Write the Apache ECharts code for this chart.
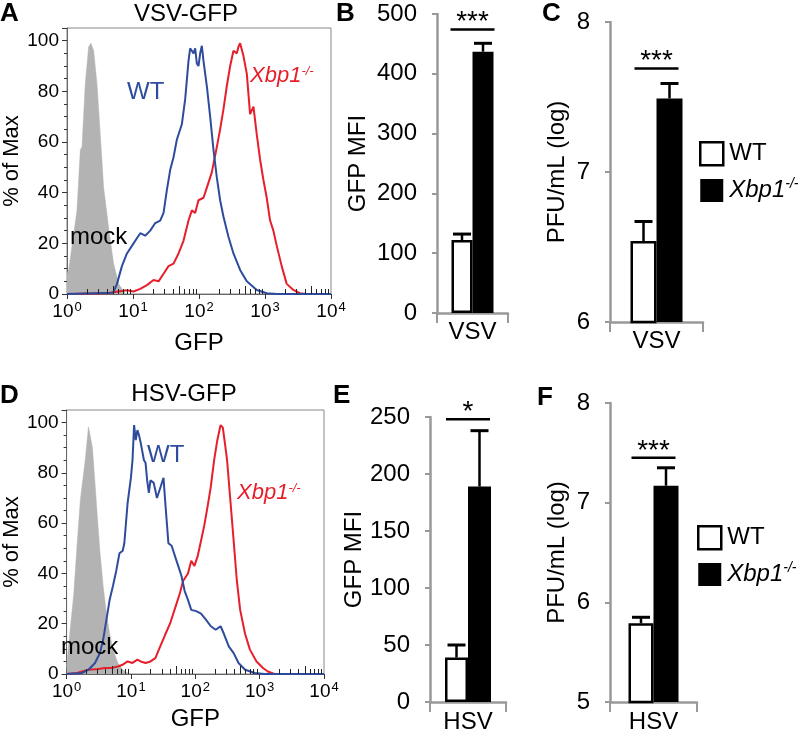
<!DOCTYPE html>
<html><head><meta charset="utf-8">
<script src="https://cdn.jsdelivr.net/npm/echarts@6/dist/echarts.min.js"></script>
<style>html,body{margin:0;padding:0;background:#fff}#c{width:800px;height:734px}</style>
</head><body><div id="c"></div>
<script>
// ---------- DATA ----------
// Histograms: [log10(GFP), % of Max]
const vsvMock = [[0,8],[0.025,9.5],[0.151,33],[0.202,57],[0.227,58],[0.277,83],[0.328,97.6],[0.363,99],[0.404,96],[0.454,83],[0.504,63],[0.555,42],[0.631,26],[0.706,12],[0.782,4],[0.883,0]];
const vsvWT = [[0,0],[0.7,0.5],[0.757,4],[0.832,11],[0.908,16],[0.984,19],[1.059,22],[1.110,24],[1.185,23],[1.261,25],[1.337,28],[1.412,29],[1.463,32],[1.513,41],[1.564,49],[1.614,54],[1.665,61],[1.740,67],[1.791,77],[1.841,92],[1.866,97],[1.917,95],[1.942,97],[1.967,91],[1.992,90],[2.018,95],[2.043,98],[2.068,92],[2.119,82],[2.169,70],[2.219,57],[2.270,46],[2.320,37],[2.371,30.5],[2.446,22.6],[2.522,16],[2.623,9.5],[2.724,5],[2.875,1.6],[3.026,0.3],[3.178,0],[4,0]];
const vsvKO = [[0,0],[0.6,0.3],[0.908,1.5],[1.009,1],[1.110,2],[1.211,3.5],[1.311,5.5],[1.387,5],[1.463,8],[1.538,11],[1.614,12],[1.690,16],[1.765,21],[1.841,29],[1.892,33],[1.942,32],[1.992,37],[2.068,38],[2.119,42],[2.194,48],[2.270,58],[2.320,65],[2.371,73],[2.421,82],[2.472,90],[2.522,96],[2.573,95],[2.598,97.6],[2.623,99],[2.673,94],[2.724,87],[2.774,71],[2.825,74],[2.875,63],[2.926,53],[2.976,45],[3.026,38],[3.077,29],[3.127,25],[3.178,19],[3.253,11],[3.329,4],[3.430,1.6],[3.531,0.3],[3.632,0],[4,0]];
const hsvMock = [[0,3],[0.010,5.7],[0.061,19],[0.112,32],[0.162,51],[0.213,69],[0.289,85],[0.340,98.3],[0.365,99],[0.401,90],[0.441,76],[0.482,61],[0.517,49],[0.568,35],[0.619,24],[0.669,16],[0.720,9.7],[0.796,4.4],[0.872,1.7],[0.948,0.4],[1.0,0]];
const hsvWT = [[0,0],[0.238,0.4],[0.340,1.7],[0.441,4.4],[0.517,8.3],[0.568,13.6],[0.619,21.6],[0.669,29.5],[0.720,35],[0.771,41],[0.821,48],[0.872,49],[0.897,52],[0.948,68],[0.999,78],[1.024,85],[1.049,99],[1.075,93],[1.100,97],[1.125,95],[1.151,92],[1.202,85],[1.227,84],[1.252,77],[1.278,72],[1.303,77],[1.354,76],[1.404,70],[1.455,74],[1.506,78],[1.531,69],[1.582,52],[1.632,51],[1.683,47],[1.734,43],[1.785,39],[1.835,33],[1.886,29.5],[1.937,25.5],[2.013,25],[2.089,24],[2.165,21.6],[2.241,19],[2.317,17.6],[2.393,19],[2.444,16],[2.520,11],[2.596,8.3],[2.672,4.4],[2.773,1.7],[2.925,0.4],[3.077,0],[4,0]];
const hsvKO = [[0,0],[0.162,0.4],[0.238,1],[0.340,1.7],[0.492,2],[0.593,2.4],[0.695,2.4],[0.796,3],[0.872,3.7],[0.948,5],[1.024,4.4],[1.100,5.7],[1.151,5],[1.227,4.4],[1.303,5],[1.379,6.3],[1.455,11],[1.531,15.6],[1.607,20],[1.683,26],[1.759,32],[1.810,37],[1.886,40],[1.937,45],[1.987,43],[2.038,47],[2.089,53],[2.139,59],[2.190,66.5],[2.241,74.5],[2.292,85],[2.342,93],[2.393,99],[2.428,98],[2.459,92],[2.494,85],[2.545,69],[2.596,53],[2.646,37],[2.697,25.5],[2.773,16],[2.849,9.7],[2.951,5],[3.052,2.4],[3.128,1],[3.229,0],[4,0]];
const decadeTicks = [0,1,2,3,4];

// Bar panels
const catVSV = ['VSV'];
const catHSV = ['HSV'];
const vsvMfiWT = [122], vsvMfiWTErr = [10];
const vsvMfiKO = [437], vsvMfiKOErr = [14];
const vsvPfuWT = [6.54], vsvPfuWTErr = [0.13];
const vsvPfuKO = [7.49], vsvPfuKOErr = [0.10];
const hsvMfiWT = [39], hsvMfiWTErr = [11];
const hsvMfiKO = [189], hsvMfiKOErr = [49];
const hsvPfuWT = [5.79], hsvPfuWTErr = [0.06];
const hsvPfuKO = [7.17], hsvPfuKOErr = [0.18];
const sigVsvMfi = [474], starsVsvMfi = ['***'];
const sigVsvPfu = [7.69], starsVsvPfu = ['***'];
const sigHsvMfi = [248], starsHsvMfi = ['*'];
const sigHsvPfu = [7.45], starsHsvPfu = ['***'];

// ---------- STYLE ----------
const FONT = "'Liberation Sans', Arial, Helvetica, sans-serif";
const BLUE = '#2E4C9E', RED = '#E61F2A', GREY = '#B3B3B3', AXG = '#999';

const grids = [
  {left:67, top:28, width:264, height:266},   // A
  {left:437, top:14, width:71, height:299},   // B
  {left:610, top:22, width:93, height:300},   // C
  {left:61, top:410, width:263, height:264},  // D
  {left:430, top:417, width:76, height:287},  // E
  {left:610, top:403, width:87, height:300}   // F
].map(g => Object.assign({show:false, containLabel:false}, g));
grids[0].show = true; grids[3].show = true;
grids[0].borderColor = '#888'; grids[3].borderColor = '#888';
grids[0].borderWidth = 1; grids[3].borderWidth = 1;

const minorVals = [];
for (let d = 0; d < 4; d++) for (let k = 2; k <= 9; k++) minorVals.push([d + Math.log10(k), k]);

function histX(gi, gap) {
  return {type:'value', gridIndex:gi, min:0, max:4, interval:1,
    name:'GFP', nameLocation:'middle', nameGap:gap,
    nameTextStyle:{fontSize:24, color:'#000', fontFamily:FONT},
    axisLine:{show:true, onZero:false, lineStyle:{color:'#666', width:1}},
    axisTick:{show:true, length:5, lineStyle:{color:'#333'}},
    axisLabel:{margin:7, color:'#000', formatter: v => '{b|10}{s|' + decadeTicks[v] + '}',
      rich:{b:{fontSize:19, fontFamily:FONT, color:'#000', lineHeight:22},
            s:{fontSize:13, fontFamily:FONT, color:'#000', verticalAlign:'top', padding:[0,0,0,1]}}},
    splitLine:{show:false}};
}
function histY(gi, gap) {
  return {type:'value', gridIndex:gi, min:0, max:105, interval:20,
    name:'% of Max', nameLocation:'middle', nameGap:gap, nameRotate:90,
    nameTextStyle:{fontSize:22, color:'#000', fontFamily:FONT},
    axisLine:{show:true, lineStyle:{color:'#666', width:1}},
    axisTick:{show:true, length:5, lineStyle:{color:'#333'}},
    minorTick:{show:true, splitNumber:4, length:3, lineStyle:{color:'#333'}},
    axisLabel:{showMaxLabel:false, margin:8, fontSize:19, color:'#000', fontFamily:FONT},
    splitLine:{show:false}, minorSplitLine:{show:false}};
}
function barX(gi, cats, margin) {
  return {type:'category', gridIndex:gi, data:cats,
    axisLine:{show:true, lineStyle:{color:AXG, width:2.5}},
    axisTick:{show:true, length:10, lineStyle:{color:AXG, width:2}},
    axisLabel:{fontSize:24, margin:margin, color:'#000', fontFamily:FONT}};
}
function barY(gi, min, max, interval, name, gap) {
  return {type:'value', gridIndex:gi, min:min, max:max, interval:interval,
    name:name, nameLocation:'middle', nameGap:gap, nameRotate:90,
    nameTextStyle:{fontSize:24, color:'#000', fontFamily:FONT},
    axisLine:{show:true, lineStyle:{color:AXG, width:2.5}},
    axisTick:{show:true, length:5, lineStyle:{color:AXG, width:2}},
    axisLabel:{fontSize:24, margin:20, color:'#000', fontFamily:FONT},
    splitLine:{show:false}};
}

function histSeries(ai, mock, wt, ko, tag) {
  return [
    {type:'line', name:tag+' mock', xAxisIndex:ai, yAxisIndex:ai, data:mock, showSymbol:false, symbol:'none',
      lineStyle:{width:0.5, color:GREY}, areaStyle:{color:GREY, opacity:1}, z:2},
    {type:'line', name:tag+' KO', xAxisIndex:ai, yAxisIndex:ai, data:ko, showSymbol:false, symbol:'none',
      lineStyle:{width:2, color:RED}, z:3},
    {type:'line', name:tag+' WT', xAxisIndex:ai, yAxisIndex:ai, data:wt, showSymbol:false, symbol:'none',
      lineStyle:{width:2, color:BLUE}, z:4},
    {type:'custom', name:tag+' ticks', xAxisIndex:ai, yAxisIndex:ai, data:minorVals, silent:true, z:5,
      renderItem:(params, api) => {
        const p = api.coord([api.value(0), 0]);
        const len = api.value(1) === 5 ? 8 : 5;
        const x = Math.round(p[0]) + 0.5;
        return {type:'line', shape:{x1:x, y1:p[1], x2:x, y2:p[1]-len}, style:{stroke:'#222', lineWidth:1}};
      }}
  ];
}

function barSeries(ai, wt, wtErr, ko, koErr, sig, stars, bw) {
  const errItem = (off) => (params, api) => {
    const m = api.value(1), e = api.value(2);
    const b = api.coord([api.value(0), m]);
    const t = api.coord([api.value(0), m + e]);
    const x = b[0] + off;
    return {type:'group', children:[
      {type:'line', shape:{x1:x, y1:b[1], x2:x, y2:t[1]}, style:{stroke:'#000', lineWidth:2.5}},
      {type:'line', shape:{x1:x-9, y1:t[1], x2:x+9, y2:t[1]}, style:{stroke:'#000', lineWidth:3}}
    ]};
  };
  return [
    {type:'bar', name:'WT', xAxisIndex:ai, yAxisIndex:ai, data:wt, barWidth:bw, barGap:'0%', clip:true,
      itemStyle:{color:'#fff', borderColor:'#000', borderWidth:2.5}, z:2},
    {type:'bar', name:'Xbp1', xAxisIndex:ai, yAxisIndex:ai, data:ko, barWidth:bw, barGap:'0%', clip:true,
      itemStyle:{color:'#000', borderColor:'#000', borderWidth:0}, z:3},
    {type:'custom', xAxisIndex:ai, yAxisIndex:ai, clip:false, z:4,
      data: wt.map((v, i) => [i, v, wtErr[i]]), renderItem: errItem(-bw/2)},
    {type:'custom', xAxisIndex:ai, yAxisIndex:ai, clip:false, z:4,
      data: ko.map((v, i) => [i, v, koErr[i]]), renderItem: errItem(bw/2)},
    {type:'custom', xAxisIndex:ai, yAxisIndex:ai, clip:false, z:4,
      data: sig.map((v, i) => [i, v]),
      renderItem: (params, api) => {
        const p = api.coord([api.value(0), api.value(1)]);
        return {type:'group', children:[
          {type:'line', shape:{x1:p[0]-22, y1:p[1], x2:p[0]+22, y2:p[1]}, style:{stroke:'#000', lineWidth:2.5}},
          {type:'text', x:p[0], y:p[1]-7, style:{text:stars[params.dataIndex], fill:'#000',
            font:'28px ' + FONT, align:'center', verticalAlign:'middle', textAlign:'center', textVerticalAlign:'middle'}}
        ]};
      }}
  ];
}

function txt(x, y, text, opts) {
  return {type:'text', x:x, y:y, z:100, zlevel:0, silent:true, style:Object.assign({text:text, fill:'#000', font:'24px ' + FONT,
    align:'left', verticalAlign:'middle', textAlign:'left', textVerticalAlign:'middle'}, opts || {})};
}
const koRich = {i:{fontStyle:'italic', fontSize:22, fontFamily:FONT, fill:RED, color:RED},
                s:{fontStyle:'italic', fontSize:13, fontFamily:FONT, fill:RED, color:RED, verticalAlign:'top'}};

const legendRich = {
  n:{fontSize:24, fontFamily:FONT, color:'#000'},
  i:{fontSize:24, fontFamily:FONT, fontStyle:'italic', color:'#000', lineHeight:26},
  s:{fontSize:14, fontFamily:FONT, fontStyle:'italic', color:'#000', verticalAlign:'top'}
};
function legendAt(left, top) {
  return {orient:'vertical', left:left, top:top, itemWidth:23, itemHeight:23, itemGap:11, icon:'rect',
    selectedMode:false, padding:0,
    data:[{name:'WT', itemStyle:{color:'#fff', borderColor:'#000', borderWidth:2.5}},
          {name:'Xbp1', itemStyle:{color:'#000', borderColor:'#000', borderWidth:0}}],
    formatter: n => n === 'Xbp1' ? '{i|Xbp1}{s|-/-}' : '{n|WT}',
    textStyle:{rich:legendRich, fontSize:24, fontFamily:FONT, color:'#000', padding:[0,0,0,1]}};
}

const option = {
  animation:false,
  backgroundColor:'#fff',
  textStyle:{fontFamily:FONT},
  grid: grids,
  xAxis: [histX(0, 37), barX(1, catVSV, 7), barX(2, catVSV, 7), histX(3, 33), barX(4, catHSV, 8), barX(5, catHSV, 8)],
  yAxis: [histY(0, 40), barY(1, 0, 500, 100, 'GFP MFI', 67), barY(2, 6, 8, 1, 'PFU/mL (log)', 41),
          histY(3, 35), barY(4, 0, 250, 50, 'GFP MFI', 60), barY(5, 5, 8, 1, 'PFU/mL (log)', 41)],
  legend: [legendAt(699, 141), legendAt(697, 525)],
  series: [].concat(
    histSeries(0, vsvMock, vsvWT, vsvKO, 'VSV'),
    barSeries(1, vsvMfiWT, vsvMfiWTErr, vsvMfiKO, vsvMfiKOErr, sigVsvMfi, starsVsvMfi, 21),
    barSeries(2, vsvPfuWT, vsvPfuWTErr, vsvPfuKO, vsvPfuKOErr, sigVsvPfu, starsVsvPfu, 26),
    histSeries(3, hsvMock, hsvWT, hsvKO, 'HSV'),
    barSeries(4, hsvMfiWT, hsvMfiWTErr, hsvMfiKO, hsvMfiKOErr, sigHsvMfi, starsHsvMfi, 23),
    barSeries(5, hsvPfuWT, hsvPfuWTErr, hsvPfuKO, hsvPfuKOErr, sigHsvPfu, starsHsvPfu, 25)
  ),
  graphic: {elements: [
    txt(0, 14, 'A', {font:'bold 26px ' + FONT}),
    txt(336, 14, 'B', {font:'bold 26px ' + FONT}),
    txt(542, 14, 'C', {font:'bold 26px ' + FONT}),
    txt(0, 396, 'D', {font:'bold 26px ' + FONT}),
    txt(333, 396, 'E', {font:'bold 26px ' + FONT}),
    txt(537, 398, 'F', {font:'bold 26px ' + FONT}),
    txt(186, 14, 'VSV-GFP', {align:'center', textAlign:'center'}),
    txt(184, 394, 'HSV-GFP', {align:'center', textAlign:'center'}),
    txt(127, 92, 'WT', {fill:BLUE}),
    txt(250, 76, '{i|Xbp1}{s|-/-}', {rich:koRich, fill:RED}),
    txt(70, 237, 'mock'),
    txt(147, 455, 'WT', {fill:BLUE}),
    txt(237, 493, '{i|Xbp1}{s|-/-}', {rich:koRich, fill:RED}),
    txt(61, 647, 'mock')
  ]}
};
const chart = echarts.init(document.getElementById('c'), null, {renderer:'canvas'});
chart.setOption(option);
</script></body></html>
